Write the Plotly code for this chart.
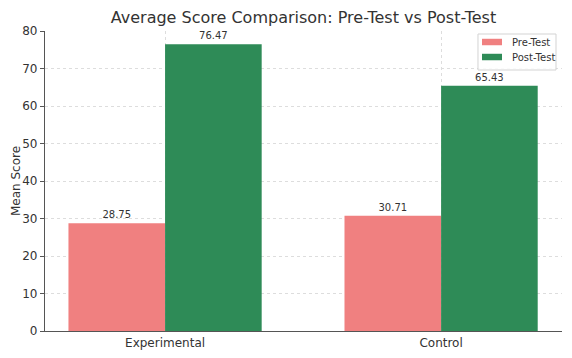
import plotly.graph_objects as go

categories = ["Experimental", "Control"]
series_names = ["Pre-Test", "Post-Test"]
pre_test = [28.75, 30.71]
post_test = [76.47, 65.43]
y_ticks = [0, 10, 20, 30, 40, 50, 60, 70, 80]

colors = ["#F08080", "#2E8B57"]
font_family = "DejaVu Sans"

fig = go.Figure()
for name, vals, col in zip(series_names, [pre_test, post_test], colors):
    fig.add_trace(go.Bar(
        x=categories, y=vals, name=name,
        marker=dict(color=col, line=dict(width=0)),
        text=[f"{v:.2f}" for v in vals], textposition="outside",
        textfont=dict(size=10, color="#333333", family=font_family),
        cliponaxis=False, showlegend=False,
    ))

fig.update_layout(
    width=572, height=358,
    margin=dict(l=45, r=10, t=31, b=27, autoexpand=False),
    paper_bgcolor="white", plot_bgcolor="white",
    barmode="group", bargap=0.3, bargroupgap=0,
    font=dict(family=font_family, color="#333333"),
    title=dict(text="Average Score Comparison: Pre-Test vs Post-Test",
               xref="paper", x=0.5, xanchor="center", y=0.952, yanchor="middle",
               font=dict(size=16, color="#333333", family=font_family)),
)

# Legend box (matplotlib-style) built from the series names/colours
fig.add_shape(type="rect", xref="paper", yref="paper",
              x0=0.8375, x1=0.9884, y0=0.87, y1=0.99,
              line=dict(color="#d3d3d3", width=1), fillcolor="rgba(255,255,255,0.85)")
row_y = [(0.8557 + 0.9733 - 0.0) / 2 + 0.0, (0.9023 + 0.924) / 2]
row_y = [0.9633, 0.9133]
for name, col, yc in zip(series_names, colors, row_y):
    fig.add_shape(type="rect", xref="paper", yref="paper",
                  x0=0.8453, x1=0.8839, y0=yc - 0.0108, y1=yc + 0.0108,
                  line=dict(width=0), fillcolor=col)
    fig.add_annotation(text=name, showarrow=False, xref="paper", yref="paper",
                       x=0.8994, y=yc, xanchor="left", yanchor="middle",
                       font=dict(size=10, color="#333333", family=font_family))

fig.add_annotation(
    text="Mean Score", textangle=-90, showarrow=False,
    xref="paper", yref="paper", x=-0.056, y=0.5, xanchor="center", yanchor="middle",
    font=dict(size=12, color="#333333", family=font_family),
)
fig.update_xaxes(
    type="category", range=[-0.435, 1.438], automargin=False,
    showgrid=True, gridcolor="#dddddd", griddash="dot", gridwidth=1,
    showline=True, linecolor="#555555", linewidth=1.2,
    ticks="", tickfont=dict(size=12, color="#333333"),
)
fig.update_yaxes(
    range=[0, 80], tickvals=y_ticks, automargin=False,
    showgrid=True, gridcolor="#dddddd", griddash="dot", gridwidth=1,
    showline=True, linecolor="#555555", linewidth=1.2,
    ticks="outside", ticklen=4, tickcolor="#555555",
    tickfont=dict(size=12, color="#333333"),
    zeroline=False,
)

fig.write_html("out.html", post_script="document.body.style.margin='0';",
               config={"displayModeBar": False})
